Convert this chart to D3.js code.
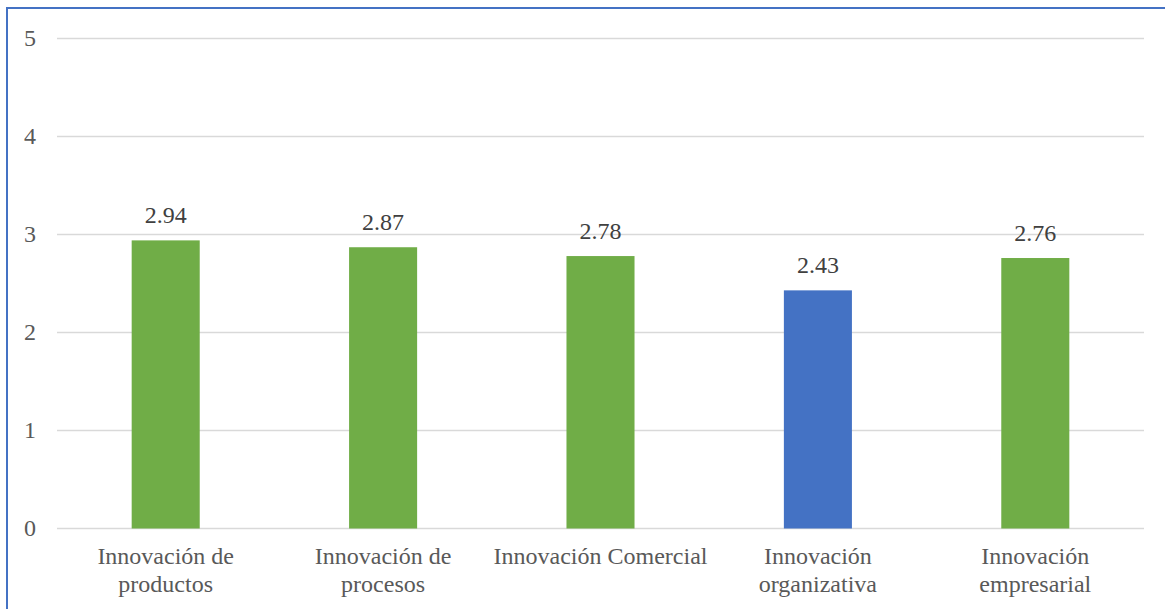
<!DOCTYPE html>
<html>
<head>
<meta charset="utf-8">
<script src="https://cdn.jsdelivr.net/npm/d3@7"></script>
<style>
  html, body { margin: 0; padding: 0; background: #fff; }
  svg { display: block; }
</style>
</head>
<body>
<svg id="chart" width="1165" height="609"></svg>
<script>
// Category labels (each line drawn as its own tspan)
const categories = [
  ["Innovación de", "productos"],
  ["Innovación de", "procesos"],
  ["Innovación Comercial"],
  ["Innovación", "organizativa"],
  ["Innovación", "empresarial"]
];
const values = [2.94, 2.87, 2.78, 2.43, 2.76];
const barColors = ["#70AD47", "#70AD47", "#70AD47", "#4472C4", "#70AD47"];
const yTicks = [0, 1, 2, 3, 4, 5];

const svg = d3.select("#chart");
const W = 1165, H = 609;
const plot = { left: 57, right: 1144, top: 38.5, bottom: 528.5 };
const font = "'Liberation Serif', 'Times New Roman', serif";
const textColor = "#595959";

// Outer frame
svg.append("rect")
  .attr("x", 7).attr("y", 8)
  .attr("width", W + 10).attr("height", H + 10)
  .attr("fill", "#fff")
  .attr("stroke", "#4472C4").attr("stroke-width", 2);

const x = d3.scaleBand()
  .domain(d3.range(values.length))
  .range([plot.left, plot.right])
  .paddingInner(0.687)
  .paddingOuter(0.3435);

const y = d3.scaleLinear().domain([0, 5]).range([plot.bottom, plot.top]);

// Horizontal gridlines
svg.append("g")
  .selectAll("line")
  .data(yTicks)
  .join("line")
  .attr("x1", plot.left).attr("x2", plot.right)
  .attr("y1", d => y(d)).attr("y2", d => y(d))
  .attr("stroke", "#d9d9d9").attr("stroke-width", 1.5);

// Y axis labels
svg.append("g")
  .selectAll("text")
  .data(yTicks)
  .join("text")
  .attr("x", 36)
  .attr("y", d => y(d))
  .attr("dy", "0.33em")
  .attr("text-anchor", "end")
  .attr("font-family", font)
  .attr("font-size", 24)
  .attr("fill", textColor)
  .text(d => d);

// Bars
svg.append("g")
  .selectAll("rect")
  .data(values)
  .join("rect")
  .attr("x", (d, i) => x(i))
  .attr("width", x.bandwidth())
  .attr("y", d => y(d))
  .attr("height", d => y(0) - y(d))
  .attr("fill", (d, i) => barColors[i]);

// Value labels
svg.append("g")
  .selectAll("text")
  .data(values)
  .join("text")
  .attr("x", (d, i) => x(i) + x.bandwidth() / 2)
  .attr("y", d => y(d) - 17)
  .attr("text-anchor", "middle")
  .attr("font-family", font)
  .attr("font-size", 24)
  .attr("fill", "#404040")
  .text(d => d.toFixed(2));

// Category labels
const cat = svg.append("g")
  .selectAll("text")
  .data(categories)
  .join("text")
  .attr("x", (d, i) => x(i) + x.bandwidth() / 2)
  .attr("y", 564)
  .attr("text-anchor", "middle")
  .attr("font-family", font)
  .attr("font-size", 24)
  .attr("fill", textColor);

cat.selectAll("tspan")
  .data(d => d)
  .join("tspan")
  .attr("x", function () { return d3.select(this.parentNode).attr("x"); })
  .attr("dy", (d, j) => j === 0 ? 0 : 28)
  .text(d => d);
</script>
</body>
</html>
